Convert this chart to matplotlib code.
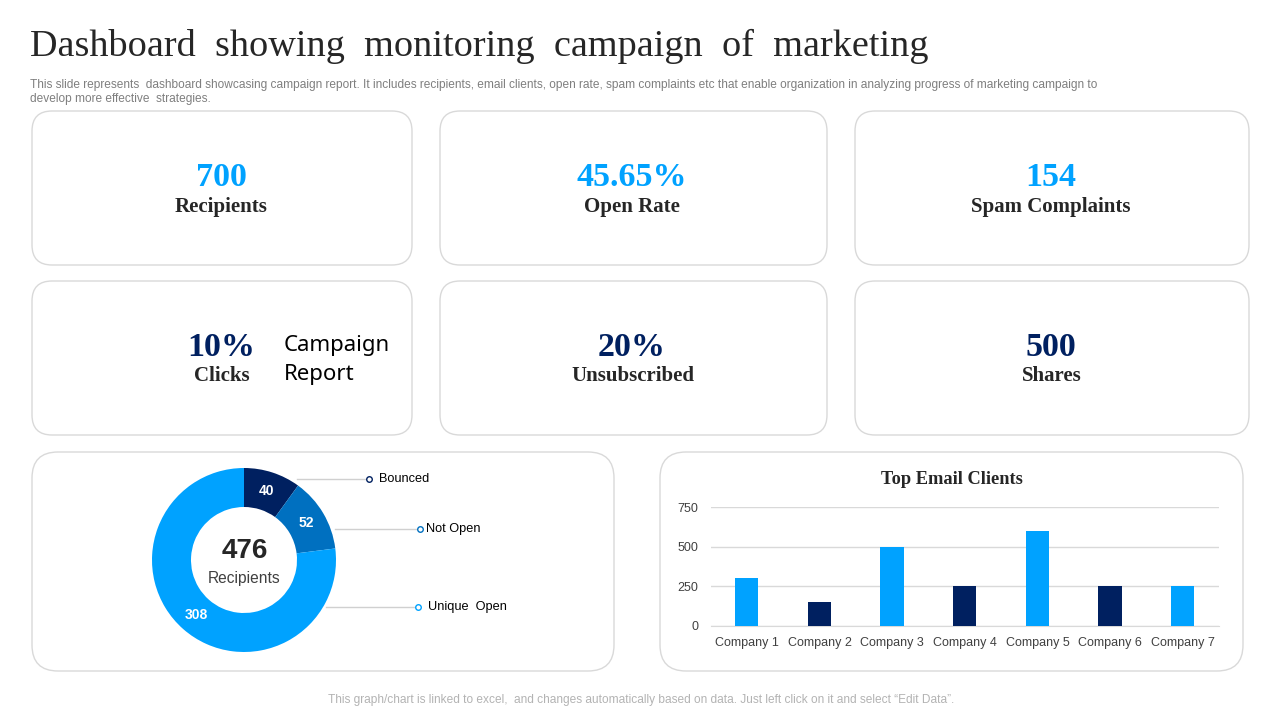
import matplotlib
matplotlib.use("Agg")
import matplotlib.pyplot as plt
from matplotlib.patches import FancyBboxPatch

LIGHT = "#00A2FF"
NAVY = "#002060"
MID = "#0070C0"
W, H = 1280, 720

# kpi cards
card_values = ["700", "45.65%", "154", "10%", "20%", "500"]
card_labels = ["Recipients", "Open Rate", "Spam Complaints", "Clicks", "Unsubscribed", "Shares"]
# donut
donut_names = ["Bounced", "Not Open", "Unique  Open"]
donut_values = [40, 52, 308]
# bars
companies = ["Company 1", "Company 2", "Company 3", "Company 4", "Company 5", "Company 6", "Company 7"]
clients = [300, 150, 500, 250, 600, 250, 250]
client_ticks = [0, 250, 500, 750]

SERIF = "Liberation Serif"
SANS = "Liberation Sans"


def px_axes(x0, y0, x1, y1):
    return fig.add_axes([x0 / W, 1 - y1 / H, (x1 - x0) / W, (y1 - y0) / H])


def card(x0, y0, x1, y1, r=20):
    bg.add_patch(FancyBboxPatch((x0 + r, y0 + r), x1 - x0 - 2 * r, y1 - y0 - 2 * r,
                                boxstyle="round,pad=%d,rounding_size=%d" % (r, r),
                                fc="white", ec="#d9d9d9", lw=1))


fig = plt.figure(figsize=(12.8, 7.2), dpi=100, facecolor="white")
bg = fig.add_axes([0, 0, 1, 1])
bg.set_xlim(0, W)
bg.set_ylim(H, 0)
bg.axis("off")

bg.text(30, 46, "Dashboard  showing  monitoring  campaign  of  marketing", family=SERIF,
        fontsize=27.5, color="#262626", va="center")
bg.text(30, 85, "This slide represents  dashboard showcasing campaign report. It includes recipients, email clients, "
        "open rate, spam complaints etc that enable organization in analyzing progress of marketing campaign to",
        family=SANS, fontsize=8.6, color="#7f7f7f", va="center")
bg.text(30, 99, "develop more effective  strategies.", family=SANS, fontsize=8.6, color="#7f7f7f", va="center")

# cards
boxes = [(32, 111, 412, 265), (440, 111, 827, 265), (855, 111, 1249, 265),
         (32, 281, 412, 435), (440, 281, 827, 435), (855, 281, 1249, 435)]
centers = [221, 632, 1051, 221, 632, 1051]
for i in range(6):
    card(*boxes[i])
    top = i < 3
    bg.text(centers[i], 177 if top else 347.5, card_values[i], family=SERIF, weight="bold", fontsize=24.5,
            color=LIGHT if top else NAVY, ha="center", va="center")
    bg.text(centers[i] + (0 if top else 1), 207 if top else 376, card_labels[i], family=SERIF, weight="bold",
            fontsize=15, color="#262626", ha="center", va="center")

bg.text(284, 345.5, "Campaign", family="Noto Sans", fontsize=16, color="black", va="center")
bg.text(284, 374.5, "Report", family="Noto Sans", fontsize=16, color="black", va="center")

card(32, 452, 614, 671, 26)
card(660, 452, 1243, 671, 26)

# donut
ax = px_axes(152, 468, 336, 652)
ax.pie(donut_values, colors=[NAVY, MID, LIGHT], startangle=90, counterclock=False, radius=1,
       wedgeprops=dict(width=39 / 92, linewidth=0),
       labels=[str(v) for v in donut_values], labeldistance=0.79,
       textprops=dict(color="white", weight="bold", family=SANS, fontsize=10, ha="center", va="center"))
ax.set_xlim(-1, 1)
ax.set_ylim(-1, 1)

bg.text(245, 551, "476", family=SANS, weight="bold", fontsize=20, color="#262626", ha="center", va="center")
bg.text(244, 579, "Recipients", family=SANS, fontsize=11.2, color="#404040", ha="center", va="center")

# leader lines
leaders = [(297, 369, 479, 379), (335, 420, 529, 426), (326, 418, 607, 428)]
marker_colors = [NAVY, MID, LIGHT]
for i in range(3):
    x0, x1, y, tx = leaders[i]
    bg.plot([x0, x1], [y, y], color="#d0d0d0", lw=1, zorder=3)
    bg.plot([x1], [y], "o", ms=4, mfc="white", mec=marker_colors[i], mew=1, zorder=4)
    bg.text(tx, y, donut_names[i], family=SANS, fontsize=9.2, color="black", va="center", zorder=4)

# bars
ax2 = px_axes(710.5, 507, 1219, 626)
bar_colors = [LIGHT, NAVY] * 3 + [LIGHT]
ax2.bar(companies, clients, width=0.32, color=bar_colors, zorder=3)
ax2.set_xlim(-0.5, 6.5)
ax2.set_ylim(0, 750)
ax2.set_yticks(client_ticks)
ax2.grid(axis="y", color="#d9d9d9", lw=1, zorder=0)
ax2.set_axisbelow(True)
for s in ["top", "right", "left"]:
    ax2.spines[s].set_visible(False)
ax2.spines["bottom"].set_color("#d9d9d9")
ax2.tick_params(length=0, labelcolor="#404040", labelsize=9)
ax2.tick_params(axis="x", pad=8)
ax2.tick_params(axis="y", pad=9)
for t in ax2.get_xticklabels() + ax2.get_yticklabels():
    t.set_family(SANS)
ax2.patch.set_alpha(0)

bg.text(952, 480, "Top Email Clients", family=SERIF, weight="bold", fontsize=13.2, color="#262626",
        ha="center", va="center")

bg.text(641, 700, "This graph/chart is linked to excel,  and changes automatically based on data. Just left click on it and select \u201cEdit Data\u201d.",
        family=SANS, fontsize=8.6, color="#b3b3b3", ha="center", va="center")

fig.savefig("out.png", dpi=100)
